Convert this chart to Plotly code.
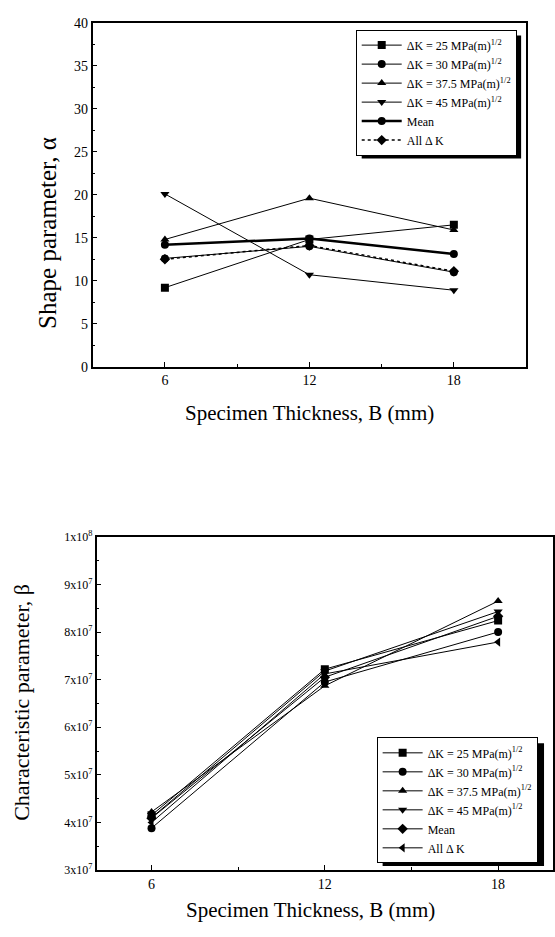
import plotly.graph_objects as go

# ---- data ----
thickness = [6, 12, 18]
series_names = ["ΔK = 25 MPa(m)<sup>1/2</sup>", "ΔK = 30 MPa(m)<sup>1/2</sup>",
                "ΔK = 37.5 MPa(m)<sup>1/2</sup>", "ΔK = 45 MPa(m)<sup>1/2</sup>",
                "Mean", "All Δ K"]
alpha_25 = [9.2, 14.8, 16.5]
alpha_30 = [12.6, 14.0, 11.0]
alpha_375 = [14.8, 19.6, 15.9]
alpha_45 = [20.1, 10.7, 8.9]
alpha_mean = [14.2, 14.9, 13.1]
alpha_all = [12.5, 14.1, 11.1]

beta_25 = [4.15e7, 7.22e7, 8.24e7]
beta_30 = [3.88e7, 6.95e7, 8.00e7]
beta_375 = [4.22e7, 6.87e7, 8.65e7]
beta_45 = [4.10e7, 7.18e7, 8.43e7]
beta_mean = [4.09e7, 7.05e7, 8.33e7]
beta_all = [4.00e7, 7.12e7, 7.79e7]

beta_tickvals = [3e7, 4e7, 5e7, 6e7, 7e7, 8e7, 9e7, 1e8]
beta_ticktext = ["3x10<sup>7</sup>", "4x10<sup>7</sup>", "5x10<sup>7</sup>", "6x10<sup>7</sup>",
                 "7x10<sup>7</sup>", "8x10<sup>7</sup>", "9x10<sup>7</sup>", "1x10<sup>8</sup>"]

W, H = 555, 937
FONT = "Liberation Serif, Times New Roman, serif"

def px(x):
    return x / W

def py(y):
    return 1 - y / H

fig = go.Figure()

top_series = [alpha_25, alpha_30, alpha_375, alpha_45, alpha_mean, alpha_all]
top_symbols = ["square", "circle", "triangle-up", "triangle-down", "circle", "diamond"]
top_widths = [1, 1, 1, 1, 2.5, 1.5]
top_dash = ["solid", "solid", "solid", "solid", "solid", "dot"]
for name, vals, sym, w, d in zip(series_names, top_series, top_symbols, top_widths, top_dash):
    fig.add_trace(go.Scatter(x=thickness, y=vals, name=name, mode="lines+markers",
                             line=dict(color="black", width=w, dash=d),
                             marker=dict(symbol=sym, size=8, color="black"),
                             xaxis="x", yaxis="y", legend="legend"))

bot_series = [beta_25, beta_30, beta_375, beta_45, beta_mean, beta_all]
bot_symbols = ["square", "circle", "triangle-up", "triangle-down", "diamond", "triangle-left"]
for name, vals, sym in zip(series_names, bot_series, bot_symbols):
    fig.add_trace(go.Scatter(x=thickness, y=vals, name=name, mode="lines+markers",
                             line=dict(color="black", width=1),
                             marker=dict(symbol=sym, size=8, color="black"),
                             xaxis="x2", yaxis="y2", legend="legend2"))

axis_common = dict(showline=True, linecolor="black", linewidth=1.5, mirror=True,
                   ticks="inside", ticklen=5, tickwidth=1, tickcolor="black",
                   showgrid=False, zeroline=False,
                   tickfont=dict(family=FONT, size=14, color="black"))

fig.update_layout(
    width=W, height=H, margin=dict(l=0, r=0, t=0, b=0),
    paper_bgcolor="white", plot_bgcolor="white",
    font=dict(family=FONT, color="black"),
    showlegend=True,
    xaxis=dict(domain=[px(93), px(528)], range=[3, 21], tickvals=[6, 12, 18],
               minor=dict(dtick=3, tick0=0, ticks="inside", ticklen=3, tickcolor="black"),
               anchor="y", **axis_common),
    yaxis=dict(domain=[py(365), py(15)], range=[0, 40], dtick=5, tick0=0,
               minor=dict(dtick=2.5, tick0=0, ticks="inside", ticklen=3, tickcolor="black"),
               anchor="x", **axis_common),
    xaxis2=dict(domain=[px(97), 1.0], range=[4.1, 19.9], tickvals=[6, 12, 18],
                minor=dict(dtick=3, tick0=0, ticks="inside", ticklen=3, tickcolor="black"),
                anchor="y2", **axis_common),
    yaxis2=dict(domain=[py(877), py(538)], range=[3e7, 1e8], tickvals=beta_tickvals,
                ticktext=beta_ticktext,
                minor=dict(dtick=5e6, tick0=0, ticks="inside", ticklen=3, tickcolor="black"),
                anchor="x2", **{**axis_common, "tickfont": dict(family=FONT, size=12, color="black")}),
    legend=dict(x=px(357), y=py(22), xanchor="left", yanchor="top",
                bgcolor="white", bordercolor="black", borderwidth=1,
                font=dict(family=FONT, size=12, color="black"),
                tracegroupgap=0, itemwidth=40),
    legend2=dict(x=px(378), y=py(742), xanchor="left", yanchor="top",
                 bgcolor="white", bordercolor="black", borderwidth=1,
                 font=dict(family=FONT, size=12, color="black"),
                 tracegroupgap=0, itemwidth=40),
)

# legend drop shadows
fig.add_shape(type="rect", xref="paper", yref="paper",
              x0=px(363), x1=px(523), y0=py(153), y1=py(28),
              fillcolor="black", line=dict(width=0), layer="above")
fig.add_shape(type="rect", xref="paper", yref="paper",
              x0=px(384), x1=px(546), y0=py(873), y1=py(748),
              fillcolor="black", line=dict(width=0), layer="above")

# axis titles
fig.add_annotation(text="Specimen Thickness, B (mm)", xref="paper", yref="paper",
                   x=px(311), y=py(412), showarrow=False, xanchor="center", yanchor="middle",
                   font=dict(family=FONT, size=21, color="black"))
fig.add_annotation(text="Shape parameter, α", xref="paper", yref="paper",
                   x=px(47), y=py(229), showarrow=False, textangle=-90,
                   xanchor="center", yanchor="middle",
                   font=dict(family=FONT, size=25, color="black"))
fig.add_annotation(text="Specimen Thickness, B (mm)", xref="paper", yref="paper",
                   x=px(312), y=py(918), showarrow=False, xanchor="center", yanchor="middle",
                   font=dict(family=FONT, size=21, color="black"))
fig.add_annotation(text="Characteristic parameter, β", xref="paper", yref="paper",
                   x=px(22), y=py(706), showarrow=False, textangle=-90,
                   xanchor="center", yanchor="middle",
                   font=dict(family=FONT, size=22, color="black"))

fig.write_html("out.html")
